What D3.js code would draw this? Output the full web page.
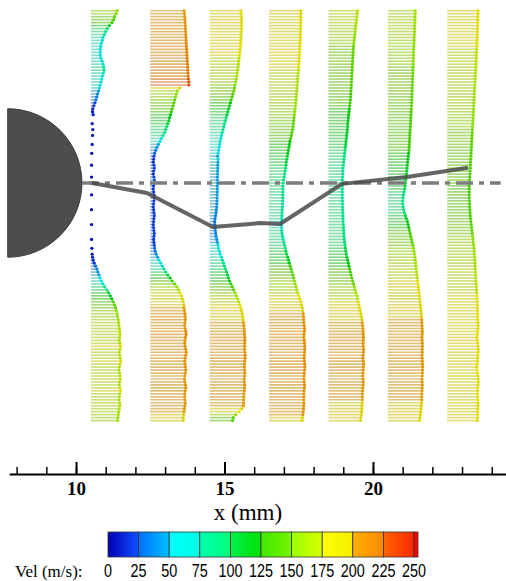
<!DOCTYPE html>
<html>
<head>
<meta charset="utf-8">
<script src="https://cdn.jsdelivr.net/npm/d3@7"></script>
<style>
  html, body { margin: 0; padding: 0; background: #fff; }
  svg { display: block; }
</style>
</head>
<body>
<svg id="chart" width="506" height="581"></svg>
<script>
// velocity profiles behind the cylinder, vectors coloured by |V|

// measurement stations (x, mm)
const stationX = [10.5, 12.5, 14.5, 16.5, 18.5, 20.5, 22.5];

// vertical measurement grid (mm), 5.8 down to -8.0
const rowY = d3.range(58, -81, -1).map(d => d / 10);

// velocity (m/s) per row, one array per station, null = no vector
const vel1 = [155,150,140,135,125,110,98,88,80,72, 68,62,58,55,55,56,60,66,72,76,
  78,74,68,64,60,56,50,46,40,35, 30,24,18,12,10,14,null,null,8,null,
  12,null,10,null,null,8,null,null,5,null, null,null,4,null,null,null,4,null,6,null,
  null,null,4,null,null,null,null,4,null,null, null,null,4,null,null,null,null,4,null,null,
  6,null,8,10,14,20,28,36,42,48, 55,62,72,82,95,105,115,124,132,140,
  146,150,155,158,162,165,166,168,170,172, 170,168,172,175,172,168,170,174,176,172,
  168,166,170,172,174,170,168,172,175,170, 168,166,170,172,168,165,162,160,158];
const vel2 = [200,202,204,205,206,207,208,209,210,211, 212,213,214,215,216,217,218,219,220,221,
  222,223,224,226,228,228,175,160,155,150, 145,140,135,130,125,120,115,110,104,98,
  92,85,76,66,58,48,40,32,26,22, 20,18,22,24,20,18,22,25,24,20,
  18,20,22,24,22,20,18,20,22,24, 22,20,18,20,22,24,22,20,22,24,
  26,30,36,44,52,62,72,82,92,105, 118,130,145,158,168,176,184,190,195,198,
  200,202,205,206,208,205,203,206,210,212, 208,205,204,206,210,213,210,206,204,205,
  208,210,207,204,202,205,208,210,206,204, 203,205,207,205,202,200,198,196,195];
const vel3 = [185,186,187,188,188,188,188,187,186,185, 184,183,182,180,178,176,174,172,170,168,
  166,163,160,157,154,150,147,143,138,133, 128,123,118,113,108,103,98,93,88,84,
  80,75,70,66,62,59,56,53,50,47, 50,49,48,48,47,47,46,46,46,45,
  45,45,44,44,44,43,42,40,38,35, 32,30,30,32,34,36,38,42,46,50,
  52,58,63,70,76,82,88,94,100,106, 112,118,126,134,142,150,158,166,172,178,
  184,188,192,195,198,200,202,204,205,206, 207,208,208,207,206,208,210,209,207,206,
  205,207,208,206,204,205,207,206,204,203, 202,201,200,200,190,175,155,140,135];
const vel4 = [188,188,188,188,187,187,186,186,185,185, 184,183,182,181,180,179,178,177,176,175,
  174,172,170,169,168,166,165,164,162,161, 160,158,156,154,152,150,148,146,144,142,
  140,136,132,128,124,120,118,114,111,108, 105,102,100,98,95,92,89,86,84,82,
  82,82,82,82,81,80,79,78,77,76, 75,74,74,74,75,77,80,84,88,92,
  96,100,105,110,115,120,126,131,136,141, 146,150,155,159,164,170,176,182,188,192,
  196,199,202,204,205,206,208,210,209,207, 206,208,210,211,212,210,208,207,209,211,
  212,210,208,207,206,208,210,209,207,206, 206,205,206,205,204,202,200,198,196];
const vel5 = [172,170,168,166,164,162,160,158,156,154, 152,150,148,147,146,145,144,143,142,141,
  140,139,138,137,136,135,134,133,132,131, 130,128,126,124,122,120,118,116,114,113,
  112,110,108,106,104,102,100,98,96,94, 92,90,88,86,85,84,83,82,82,82,
  82,82,82,82,83,83,84,84,85,86, 86,87,88,89,90,91,92,94,96,98,
  100,103,106,110,114,118,122,126,130,134, 138,143,148,153,158,163,168,172,176,180,
  184,188,192,195,198,200,202,204,205,206, 207,206,205,206,208,207,205,204,206,208,
  207,205,204,203,205,206,205,203,202,201, 200,200,199,198,198,196,194,192,190];
const vel6 = [162,162,161,160,160,159,158,158,157,156, 156,155,154,153,152,152,151,150,150,149,
  148,148,147,146,146,145,144,144,143,142, 142,141,140,139,138,137,136,135,134,133,
  132,131,130,129,128,127,126,125,123,121, 119,117,115,113,112,110,108,106,104,102,
  100,96,92,90,88,88,90,94,98,104, 110,116,120,124,128,132,136,140,144,148,
  152,155,158,160,162,164,166,168,170,172, 174,176,178,180,182,184,186,188,190,192,
  194,196,198,199,200,201,202,203,204,203, 202,203,204,205,204,203,202,203,204,205,
  206,205,204,203,202,203,204,203,202,201, 200,200,199,198,196,194,192,190,188];
const vel7 = [182,182,181,181,180,180,179,178,178,177, 176,176,175,174,173,172,172,171,170,169,
  168,167,166,165,164,163,162,161,160,160, 159,158,157,156,155,154,153,152,151,150,
  149,148,147,146,145,144,143,142,141,140, 139,138,137,136,135,134,133,132,131,130,
  130,130,130,130,131,132,133,134,135,136, 138,140,142,144,146,148,150,152,154,156,
  158,160,161,162,163,164,165,166,167,168, 169,170,171,172,173,174,175,176,177,178,
  178,179,180,180,181,182,183,182,180,178, 176,178,180,182,184,183,181,180,178,176,
  175,177,179,181,183,184,182,180,179,178, 180,181,182,182,181,180,180,179,178];
const profiles = [vel1, vel2, vel3, vel4, vel5, vel6, vel7];

// line through the velocity minima (mm)
const wakeX = [10.54, 12.39, 14.61, 16.2, 16.87, 18.96, 21.14, 23.2];
const wakeY = [0, -0.34, -1.48, -1.35, -1.38, -0.03, 0.2, 0.51];

// cylinder (mm)
const cylX = 7.7, cylR = 2.5;

// axis ticks
const majorTicks = [10, 15, 20];
const minorTicks = d3.range(8, 25);

// colour bar
const velTicks = [0, 25, 50, 75, 100, 125, 150, 175, 200, 225, 250];
const segStart = ["#0000b4", "#0070ff", "#00ffff", "#00ffb0", "#00f050", "#40e800", "#98ff00", "#ffff00", "#ffb000", "#ff6400"];
const segEnd   = ["#1050ff", "#00c0ff", "#00ffe0", "#00ff78", "#00e000", "#78f400", "#d8ff00", "#f4f000", "#ff8800", "#ff2800"];

const vecScale = 0.0057; // mm of arrow per m/s

const svg = d3.select('#chart');

const x = d3.scaleLinear().domain([7.75, 24.5]).range([9.2, 506.6]);
const y = d3.scaleLinear().domain([-8.2, 6]).range([426.5, 4.8]);
const pxPerMm = x(1) - x(0);

function velColor(v) {
    const j = Math.max(0, Math.min(Math.floor(v / 25), 9));
    const t = Math.min(1, (v - j * 25) / 25);
    return d3.interpolateRgb(segStart[j], segEnd[j])(t);
}

// cylinder, right half only
svg.append('path')
    .attr('transform', `translate(${x(cylX)},${y(0)})`)
    .attr('d', d3.arc()({ innerRadius: 0, outerRadius: cylR * pxPerMm, startAngle: 0, endAngle: Math.PI }))
    .attr('fill', '#4d4d4d')
    .attr('stroke', '#3a3a3a')
    .attr('stroke-width', 1);

// vector profiles
profiles.forEach((vals, s) => {
    const xs = stationX[s];
    const rows = vals.map((v, i) => ({ v: v, yv: rowY[i] })).filter(d => d.v != null);
    const g = svg.append('g').attr('class', 'station');

    // shaft: pale, greyed version of the colour
    g.selectAll('line')
        .data(rows)
        .enter()
        .append('line')
        .attr('x1', x(xs))
        .attr('x2', d => x(xs + d.v * vecScale))
        .attr('y1', d => y(d.yv))
        .attr('y2', d => y(d.yv))
        .attr('stroke', d => d3.interpolateRgb(velColor(d.v), '#bdb6a0')(0.55))
        .attr('stroke-opacity', 0.8)
        .attr('stroke-width', 1.7);

    // head: full colour
    g.selectAll('circle')
        .data(rows)
        .enter()
        .append('circle')
        .attr('cx', d => x(xs + d.v * vecScale))
        .attr('cy', d => y(d.yv))
        .attr('r', 1.6)
        .attr('fill', d => d3.color(velColor(d.v)).darker(0.35));
});

// dash-dot symmetry line
svg.append('line')
    .attr('x1', x(cylX + cylR)).attr('x2', x(24.3))
    .attr('y1', y(0)).attr('y2', y(0))
    .attr('stroke', '#7c7c7c')
    .attr('stroke-width', 3.5)
    .attr('stroke-dasharray', '17,6,5,6');

// wake centre line
svg.append('path')
    .datum(wakeX.map((d, i) => [d, wakeY[i]]))
    .attr('d', d3.line().x(d => x(d[0])).y(d => y(d[1])))
    .attr('fill', 'none')
    .attr('stroke', '#4a4a4a')
    .attr('stroke-opacity', 0.85)
    .attr('stroke-width', 4)
    .attr('stroke-linejoin', 'round');

// x axis, ticks point up
const axisY = 474;
svg.append('g')
    .attr('transform', `translate(0,${axisY})`)
    .call(d3.axisBottom(x).tickValues(minorTicks).tickSize(-7).tickSizeOuter(0).tickFormat(''))
    .call(g => g.select('.domain').attr('stroke', '#000').attr('stroke-width', 2))
    .call(g => g.selectAll('.tick line').attr('stroke', '#000').attr('stroke-width', 1.5));

svg.append('g')
    .attr('transform', `translate(0,${axisY})`)
    .call(d3.axisBottom(x).tickValues(majorTicks).tickSize(-12).tickSizeOuter(0).tickPadding(8).tickFormat(d3.format('d')))
    .call(g => g.select('.domain').remove())
    .call(g => g.selectAll('.tick line').attr('stroke', '#000').attr('stroke-width', 2))
    .call(g => g.selectAll('.tick text')
        .attr('fill', '#000')
        .style('font-family', '"Liberation Serif", serif')
        .style('font-weight', 'bold')
        .style('font-size', '19px'));

svg.append('text')
    .attr('x', 248)
    .attr('y', 520)
    .attr('text-anchor', 'middle')
    .style('font-family', '"Liberation Serif", serif')
    .style('font-size', '23px')
    .text('x (mm)');

// colour bar
const cbar = d3.scaleLinear().domain([0, 250]).range([108, 414]);
const cbTop = 532, cbH = 25;
const defs = svg.append('defs');
segStart.forEach((c, i) => {
    const grad = defs.append('linearGradient').attr('id', 'seg' + i);
    grad.append('stop').attr('offset', '0%').attr('stop-color', c);
    grad.append('stop').attr('offset', '100%').attr('stop-color', segEnd[i]);
});

svg.append('g')
    .selectAll('rect')
    .data(d3.range(10))
    .enter()
    .append('rect')
    .attr('x', i => cbar(velTicks[i]))
    .attr('width', i => cbar(velTicks[i + 1]) - cbar(velTicks[i]))
    .attr('y', cbTop)
    .attr('height', cbH)
    .attr('fill', i => `url(#seg${i})`)
    .attr('stroke', '#333')
    .attr('stroke-width', 0.8);

svg.append('rect')
    .attr('x', cbar(250)).attr('width', 4)
    .attr('y', cbTop).attr('height', cbH)
    .attr('fill', '#ff0000')
    .attr('stroke', '#333')
    .attr('stroke-width', 0.8);

// narrow tick labels: squeeze horizontally
svg.append('g')
    .selectAll('text')
    .data(velTicks)
    .enter()
    .append('text')
    .attr('transform', d => `translate(${cbar(d)},577) scale(0.8,1)`)
    .attr('text-anchor', 'middle')
    .style('font-family', '"Liberation Sans", Arial, sans-serif')
    .style('font-size', '18px')
    .text(d => d);

svg.append('text')
    .attr('x', 15)
    .attr('y', 577)
    .style('font-family', '"Liberation Serif", serif')
    .style('font-size', '17px')
    .text('Vel (m/s):');
</script>
</body>
</html>
